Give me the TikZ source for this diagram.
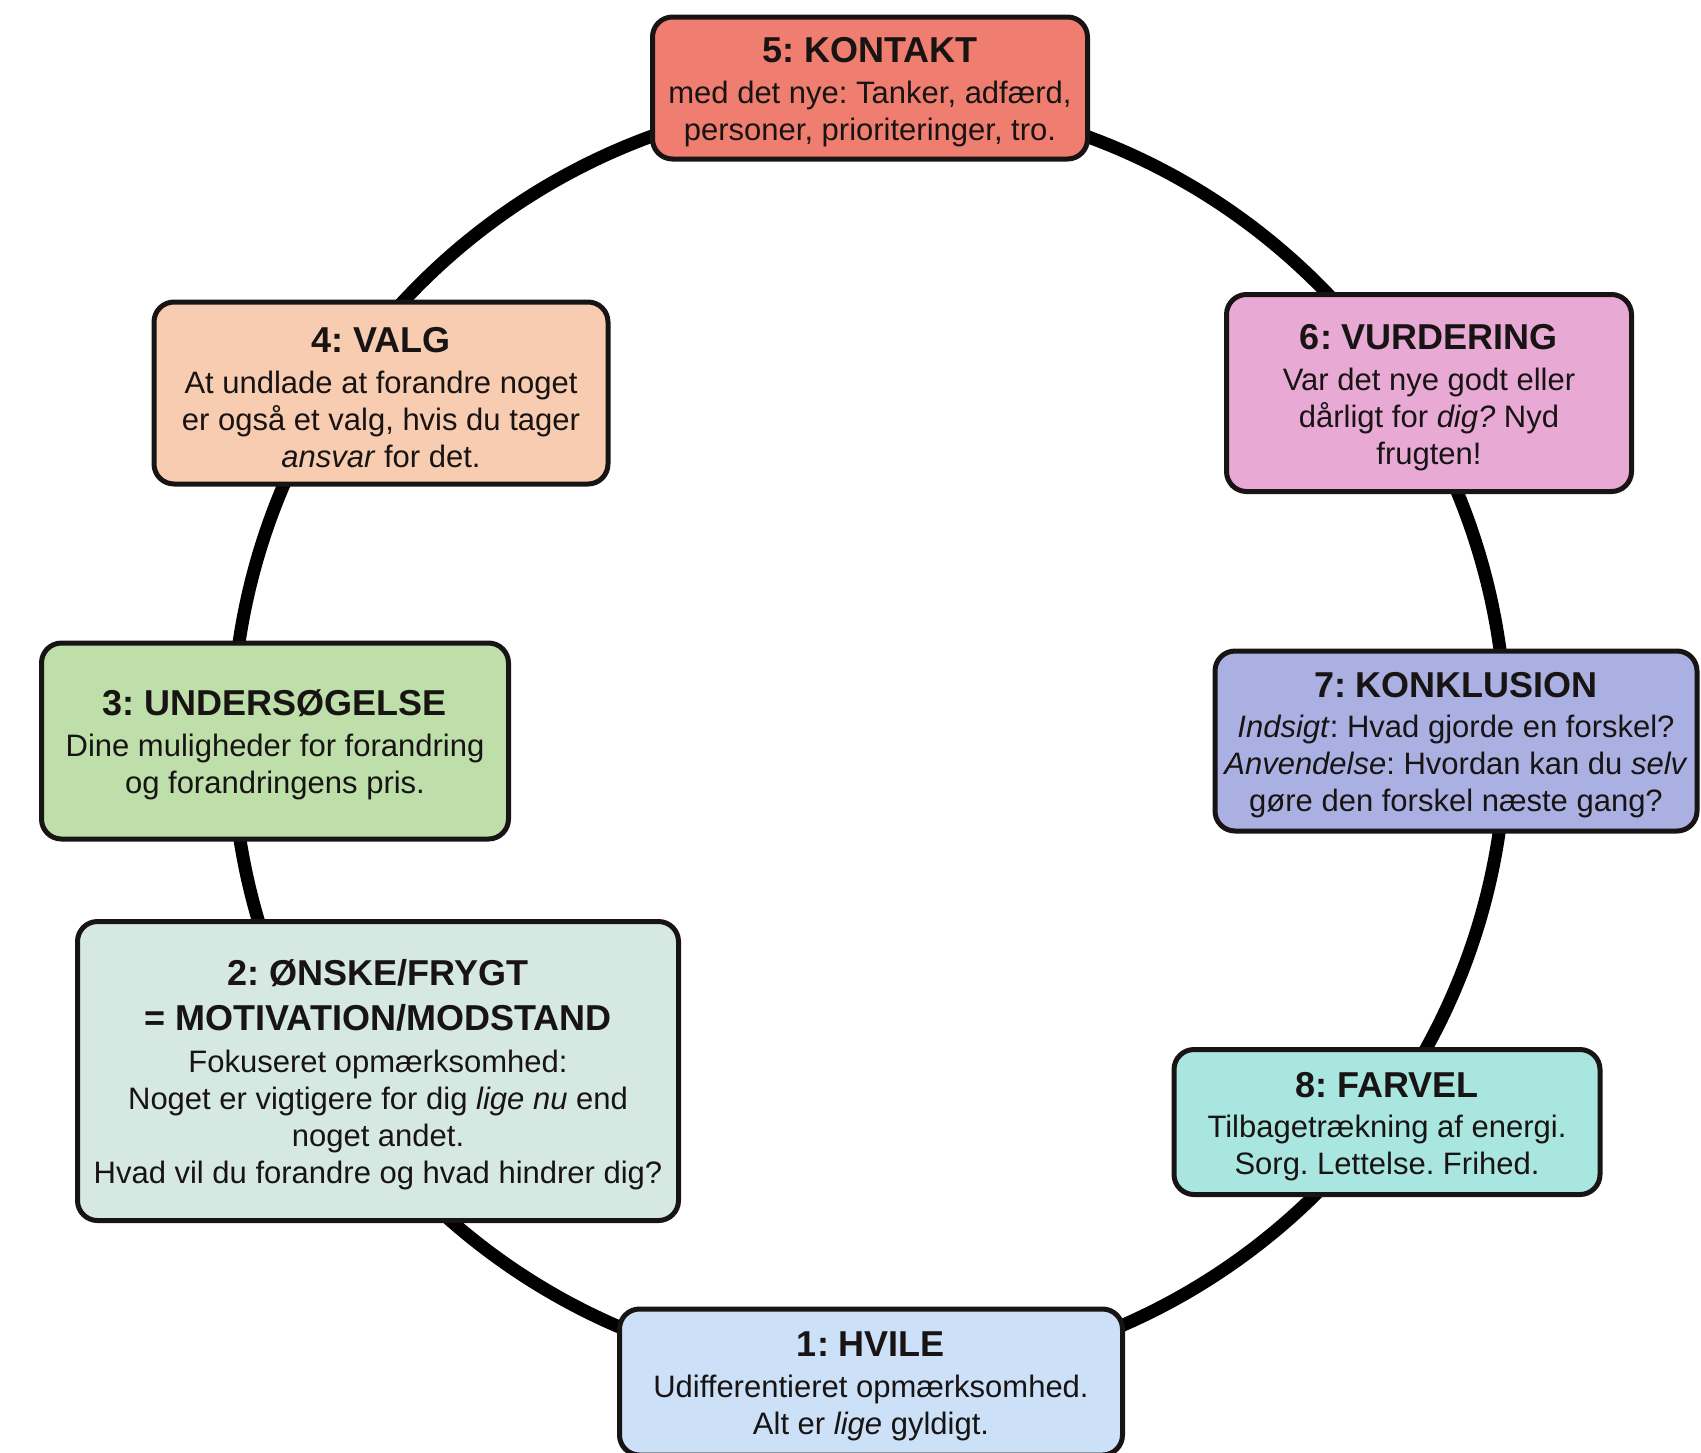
\documentclass[tikz,border=0pt]{standalone}
\usepackage{fontspec}
\setmainfont{Liberation Sans}
\frenchspacing
\definecolor{red1}{RGB}{239, 126, 112}
\definecolor{peach1}{RGB}{248, 204, 176}
\definecolor{pink1}{RGB}{232, 170, 212}
\definecolor{green1}{RGB}{190, 222, 170}
\definecolor{lilac1}{RGB}{170, 176, 226}
\definecolor{sage1}{RGB}{214, 232, 226}
\definecolor{aqua1}{RGB}{170, 230, 224}
\definecolor{sky1}{RGB}{204, 225, 248}
\definecolor{ink1}{RGB}{24, 20, 20}
\usetikzlibrary{positioning}
\tikzset{
  phase/.style={draw=ink1, line width=5pt, rounded corners=20pt, align=center, text=ink1,
    inner sep=0pt, font=\fontsize{31}{37}\selectfont},
  ring/.style={draw=black, line width=13pt}
}
\newcommand{\phasehead}[1]{{\fontsize{36}{37}\selectfont\bfseries\rule{0pt}{34pt}#1}}

\begin{document}
\begin{tikzpicture}[x=1pt, y=-1pt]
  \useasboundingbox (0,0) rectangle (1701,1452);
  % the cycle behind the phases
  \coordinate (mid) at (869,738);
  \draw[ring] (mid) ellipse [x radius=637, y radius=640];

  % the eight phases, clockwise from the bottom
  \node[phase, fill=sky1, minimum width=503pt, minimum height=146pt] (hvile) at (871,1382) {
    \phasehead{1: HVILE}\\[4pt]
    Udifferentieret opmærksomhed.\\
    Alt er \textit{lige} gyldigt.
  };
  \node[phase, fill=sage1, minimum width=601pt, minimum height=299pt] (onske) at (378,1071) {
    \phasehead{2: ØNSKE/FRYGT}\\[8pt]
    \phasehead{= MOTIVATION/MODSTAND}\\[5pt]
    Fokuseret opmærksomhed:\\
    Noget er vigtigere for dig \textit{lige nu} end\\
    noget andet.\\
    Hvad vil du forandre og hvad hindrer dig?
  };
  \node[phase, fill=green1, minimum width=467pt, minimum height=196pt] (under) at (275,741) {
    \phasehead{3: UNDERSØGELSE}\\[4pt]
    Dine muligheder for forandring\\
    og forandringens pris.
  };
  \node[phase, fill=peach1, minimum width=454pt, minimum height=182pt] (valg) at (381,393) {
    \phasehead{4: VALG}\\[4pt]
    At undlade at forandre noget\\
    er også et valg, hvis du tager\\
    \textit{ansvar} for det.
  };
  \node[phase, fill=red1, minimum width=435pt, minimum height=142pt] (kontakt) at (870,88) {
    \phasehead{5: KONTAKT}\\[4pt]
    med det nye: Tanker, adfærd,\\
    personer, prioriteringer, tro.
  };
  \node[phase, fill=pink1, minimum width=405pt, minimum height=197pt] (vurdering) at (1429,393) {
    \phasehead{6: VURDERING}\\[4pt]
    Var det nye godt eller\\
    dårligt for \textit{dig?} Nyd\\
    frugten!
  };
  \node[phase, fill=lilac1, minimum width=482pt, minimum height=180pt] (konklusion) at (1456,741) {
    \phasehead{7: KONKLUSION}\\[3pt]
    \textit{Indsigt}: Hvad gjorde en forskel?\\
    \textit{Anvendelse}: Hvordan kan du \textit{selv}\\
    gøre den forskel næste gang?
  };
  \node[phase, fill=aqua1, minimum width=426pt, minimum height=145pt] (farvel) at (1387,1122) {
    \phasehead{8: FARVEL}\\[3pt]
    Tilbagetrækning af energi.\\
    Sorg. Lettelse. Frihed.
  };
\end{tikzpicture}
\end{document}
